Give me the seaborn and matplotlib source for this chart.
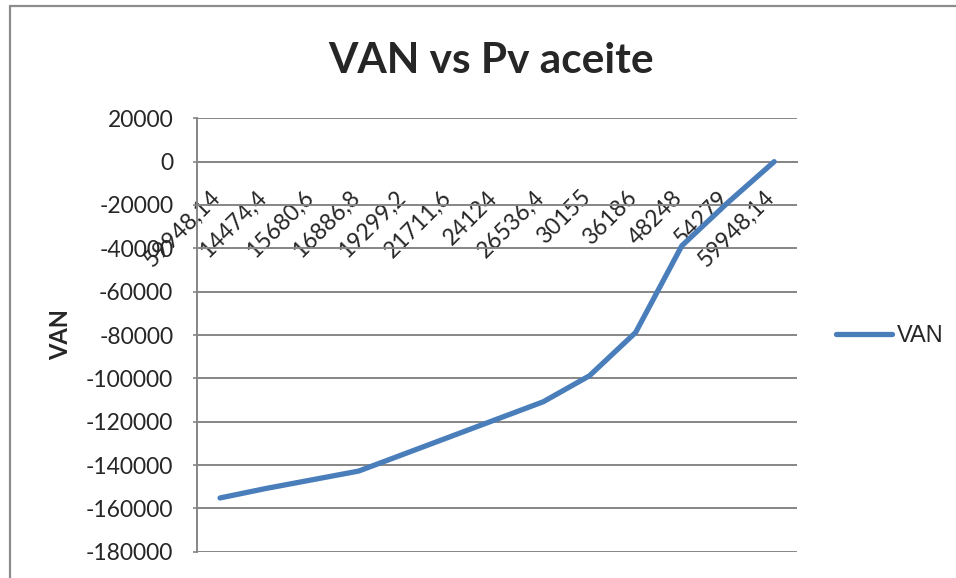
import numpy as np
import pandas as pd
import matplotlib
matplotlib.use("Agg")
import matplotlib.pyplot as plt
import matplotlib.transforms as mtransforms
from matplotlib.lines import Line2D
import seaborn as sns

# Oil price scenarios (category labels, as written in the sheet)
precio_aceite = ["59948,14", "14474,4", "15680,6", "16886,8", "19299,2", "21711,6",
                 "24124", "26536,4", "30155", "36186", "48248", "54279", "59948,14"]
# Net present value for each scenario
van = [-155200, -150800, -146800, -142800, -134800, -126800,
       -118800, -110800, -98800, -78800, -38800, -18800, 0]
y_ticks = list(range(-180000, 20001, 20000))

sns.set_theme(style="white")
plt.rcParams["font.family"] = ["Lato", "DejaVu Sans"]

GRID = "#868686"
BLUE = "#4A7EBB"

fig = plt.figure(figsize=(9.56, 5.78), dpi=100)
ax = fig.add_axes([0.206, 0.0455, 0.628, 0.7498])

df = pd.DataFrame({"idx": np.arange(len(van)), "VAN": van})
sns.lineplot(data=df, x="idx", y="VAN", ax=ax, color=BLUE, linewidth=3.8,
             sort=False, solid_capstyle="round", solid_joinstyle="round",
             label="VAN", legend=False)

# horizontal axis crosses at VAN = 0 (set before styling the tick labels)
for side in ["top", "right"]:
    ax.spines[side].set_visible(False)
ax.spines["bottom"].set_position(("data", 0))
ax.spines["left"].set_color(GRID)
ax.spines["left"].set_linewidth(1.4)
ax.spines["bottom"].set_color(GRID)
ax.spines["bottom"].set_linewidth(1.4)
ax.spines["bottom"].set_zorder(0.5)

ax.set_xlim(-0.5, len(van) - 0.5)
ax.set_ylim(-180000, 20000)
ax.set_yticks(y_ticks)
ax.set_yticklabels([str(v) for v in y_ticks], fontsize=16.5)
ax.set_xticks(np.arange(len(van)))
ax.set_xticklabels(precio_aceite, fontsize=16.5, rotation=45, ha="right",
                   va="top", rotation_mode="anchor")
ax.tick_params(axis="x", length=0, pad=18)
ax.tick_params(axis="y", length=3, width=1.2, color=GRID, direction="out",
               pad=14, left=True)

# nudge the slanted category labels so their ends sit at each category
shift = mtransforms.ScaledTranslation(-10 / 100, 0, fig.dpi_scale_trans)
for lab in ax.get_xticklabels():
    lab.set_transform(lab.get_transform() + shift)

ax.grid(axis="y", color=GRID, linewidth=1.4)
ax.set_axisbelow(True)

ax.set_xlabel("")
ax.set_ylabel("VAN", fontsize=17, fontweight="bold", labelpad=10)

fig.text(0.514, 0.895, "VAN vs Pv aceite", ha="center", va="center",
         fontsize=30.5, fontweight="bold")

handle = Line2D([], [], color=BLUE, linewidth=3.8, solid_capstyle="round")
fig.legend([handle], ["VAN"], loc="center left", bbox_to_anchor=(0.874, 0.418),
           frameon=False, handlelength=2.4, handletextpad=0.2,
           borderpad=0.0, borderaxespad=0.0,
           prop={"family": "Liberation Sans", "size": 17})

# chart-area frame (top and left edges)
fig.add_artist(Line2D([0.0105, 0.0105], [0.0, 0.99], transform=fig.transFigure,
                      color="#8c8c8c", linewidth=1.6))
fig.add_artist(Line2D([0.0105, 1.0], [0.99, 0.99], transform=fig.transFigure,
                      color="#8c8c8c", linewidth=1.6))

fig.savefig("out.png", dpi=100, facecolor="white")
